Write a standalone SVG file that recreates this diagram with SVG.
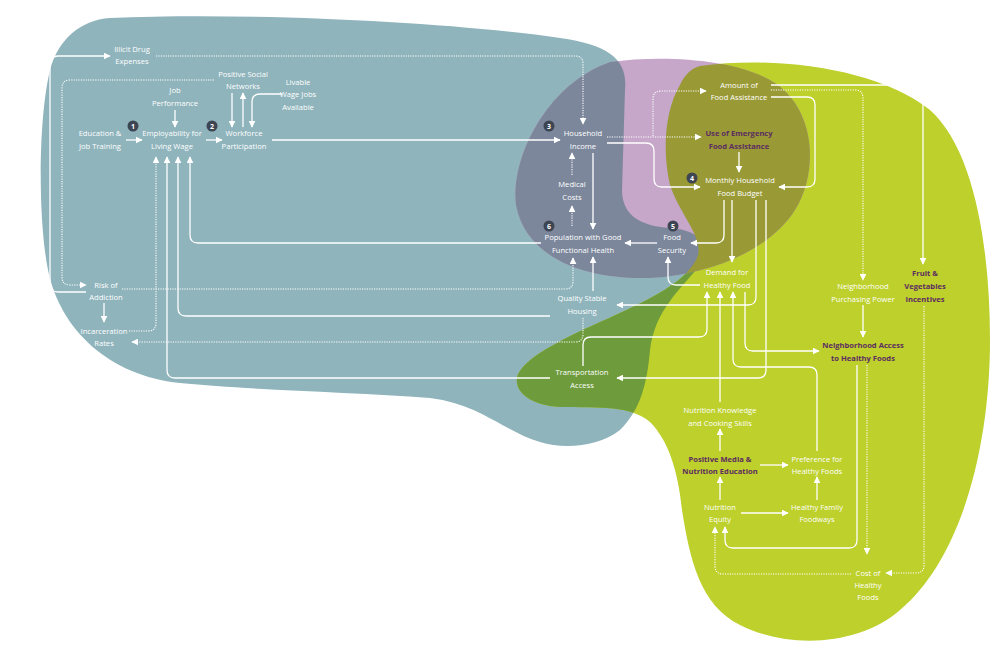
<svg xmlns="http://www.w3.org/2000/svg" width="1000" height="656" viewBox="0 0 1000 656">
<style>
text{font-family:"Open Sans","Noto Sans","Liberation Sans",sans-serif;font-size:7.6px;fill:#ffffff;text-anchor:middle}
.b{font-weight:bold;fill:#5c2c60}
.n{font-size:7px;font-weight:bold;fill:#ffffff}
.s{fill:none;stroke:#ffffff;stroke-width:1.3;marker-end:url(#ah)}
.d{fill:none;stroke:#ffffff;stroke-width:1.1;stroke-dasharray:1.2 1.2;marker-end:url(#ah)}
.bd{fill:#3d4452}
</style>
<defs>
<marker id="ah" viewBox="0 0 10 10" refX="9" refY="5" markerWidth="7" markerHeight="7" markerUnits="userSpaceOnUse" orient="auto"><path d="M0,0 L10,5 L0,10 z" fill="#ffffff"/></marker>
<path id="T" d="M110,18 C250,12 450,22 560,38 C610,45 628,60 625,90 L622,190 C622,215 640,226 670,228 C700,230 712,245 700,265 C680,290 655,310 650,350 C647,385 640,410 620,430 C600,446 565,450 540,442 C505,432 480,404 430,398 C350,392 250,390 180,383 C110,376 60,330 48,270 C38,220 38,120 50,70 C58,40 80,20 110,18 Z"/>
<path id="L" d="M700,66 C780,55 880,70 930,110 C975,150 990,250 990,340 C990,450 960,560 900,610 C860,645 790,650 740,625 C700,605 690,560 682,510 C678,470 668,440 650,422 C630,405 600,408 560,407 C530,405 515,392 517,378 C520,360 560,340 600,322 C650,300 690,280 698,255 C702,235 680,215 670,185 C662,150 665,110 680,85 C685,74 692,68 700,66 Z"/>
<path id="P" d="M610,62 C660,55 730,58 770,80 C815,105 820,170 795,210 C770,250 710,275 650,278 C580,280 525,255 516,205 C510,160 545,85 610,62 Z"/>
<clipPath id="cT"><use href="#T"/></clipPath>
<clipPath id="cL"><use href="#L"/></clipPath>
</defs>
<rect width="1000" height="656" fill="#ffffff"/>
<g id="blobs">
<use href="#T" fill="#8fb4bc"/>
<use href="#L" fill="#bdd02c"/>
<use href="#L" fill="#6e9b3b" clip-path="url(#cT)"/>
<use href="#P" fill="#c6a6c9"/>
<use href="#P" fill="#7c879c" clip-path="url(#cT)"/>
<use href="#P" fill="#999a36" clip-path="url(#cL)"/>
</g>
<g id="connectors">
<path class="s" d="M86,292 H58 Q50,292 50,284 V64 Q50,56 58,56 H110"/>
<path class="d" d="M156,56 H575 Q583,56 583,64 V124"/>
<path class="d" d="M214,80 H70 Q62,80 62,88 V277 Q62,285 70,285 H86"/>
<path class="d" d="M122,289 H565 Q573,289 573,281 V258"/>
<path class="s" d="M104,303 V322"/>
<path class="d" d="M129,331 H148 Q156,331 156,323 V157"/>
<path class="d" d="M583,318 V334 Q583,342 575,342 H132"/>
<path class="s" d="M550,378 H175 Q167,378 167,370 V157"/>
<path class="s" d="M550,316 H186 Q178,316 178,308 V157"/>
<path class="s" d="M541,243 H198 Q190,243 190,235 V157"/>
<path class="s" d="M175,110 V127"/>
<path class="s" d="M126,140 H142"/>
<path class="s" d="M206,140 H222"/>
<path class="s" d="M232,93 V127"/>
<path class="s" d="M243,127 V93"/>
<path class="s" d="M282,94 H260 Q252,94 252,102 V127"/>
<path class="s" d="M272,140 H560"/>
<path class="d" d="M607,137 H701"/>
<path class="d" d="M653,136 V99 Q653,91 661,91 H706"/>
<path class="s" d="M607,143 H646 Q654,143 654,151 V179 Q654,187 662,187 H700"/>
<path class="s" d="M771,97 H807 Q815,97 815,105 V179 Q815,187 807,187 H779"/>
<path class="s" d="M771,85 H915 Q923,85 923,93 V264"/>
<path class="d" d="M771,90 H855 Q863,90 863,98 V280"/>
<path class="s" d="M739,152 V172"/>
<path class="s" d="M724,200 V235 Q724,243 716,243 H691"/>
<path class="s" d="M732,200 V262"/>
<path class="s" d="M756,200 V297 Q756,305 748,305 H617"/>
<path class="s" d="M766,200 V370 Q766,378 758,378 H617"/>
<path class="s" d="M657,243 H625"/>
<path class="s" d="M700,285 H676 Q668,285 668,277 V257"/>
<path class="s" d="M593,153 V229"/>
<path class="d" d="M572,175 V153"/>
<path class="d" d="M572,226 V206"/>
<path class="s" d="M593,291 V257"/>
<path class="s" d="M583,366 V345 Q583,337 591,337 H699 Q707,337 707,329 V292"/>
<path class="s" d="M720,402 V292"/>
<path class="s" d="M817,451 V375 Q817,367 809,367 H741 Q733,367 733,359 V292"/>
<path class="s" d="M745,292 V343 Q745,351 753,351 H819"/>
<path class="s" d="M863,305 V337"/>
<path class="s" d="M857,365 V540 Q857,548 849,548 H733 Q725,548 725,540 V527"/>
<path class="d" d="M867,365 V554"/>
<path class="d" d="M924,306 V565 Q924,573 916,573 H886"/>
<path class="d" d="M851,574 H723 Q715,574 715,566 V527"/>
<path class="s" d="M720,451 V429"/>
<path class="s" d="M720,500 V477"/>
<path class="s" d="M760,465 H788"/>
<path class="s" d="M741,513 H788"/>
<path class="s" d="M817,500 V477"/>
</g>
<g id="n-illicit"><text x="132" y="52">Illicit Drug</text><text x="132" y="64">Expenses</text></g>
<g id="n-jobperf"><text x="175" y="93">Job</text><text x="175" y="106">Performance</text></g>
<g id="n-social"><text x="243" y="77">Positive Social</text><text x="243" y="89">Networks</text></g>
<g id="n-livable"><text x="298" y="85">Livable</text><text x="298" y="97">Wage Jobs</text><text x="298" y="110">Available</text></g>
<g id="n-edu"><text x="100" y="136">Education &amp;</text><text x="100" y="149">Job Training</text></g>
<g id="n-employ"><circle class="bd" cx="133" cy="126" r="5.5"/><text class="n" x="133" y="128.5">1</text><text x="172" y="136">Employability for</text><text x="172" y="149">Living Wage</text></g>
<g id="n-workforce"><circle class="bd" cx="212" cy="126" r="5.5"/><text class="n" x="212" y="128.5">2</text><text x="244" y="136">Workforce</text><text x="244" y="149">Participation</text></g>
<g id="n-income"><circle class="bd" cx="549" cy="126" r="5.5"/><text class="n" x="549" y="128.5">3</text><text x="583" y="136">Household</text><text x="583" y="149">Income</text></g>
<g id="n-medical"><text x="572" y="187">Medical</text><text x="572" y="200">Costs</text></g>
<g id="n-amount"><text x="739" y="88">Amount of</text><text x="739" y="100">Food Assistance</text></g>
<g id="n-emergency"><text class="b" x="739" y="136">Use of Emergency</text><text class="b" x="739" y="149">Food Assistance</text></g>
<g id="n-budget"><circle class="bd" cx="692" cy="178" r="5.5"/><text class="n" x="692" y="180.5">4</text><text x="740" y="183">Monthly Household</text><text x="740" y="196">Food Budget</text></g>
<g id="n-health"><circle class="bd" cx="549" cy="226" r="5.5"/><text class="n" x="549" y="228.5">6</text><text x="583" y="240">Population with Good</text><text x="583" y="253">Functional Health</text></g>
<g id="n-security"><circle class="bd" cx="673" cy="226" r="5.5"/><text class="n" x="673" y="228.5">5</text><text x="672" y="240">Food</text><text x="672" y="253">Security</text></g>
<g id="n-demand"><text x="727" y="275">Demand for</text><text x="727" y="288">Healthy Food</text></g>
<g id="n-housing"><text x="582" y="301">Quality Stable</text><text x="582" y="314">Housing</text></g>
<g id="n-transport"><text x="582" y="375">Transportation</text><text x="582" y="388">Access</text></g>
<g id="n-risk"><text x="106" y="288">Risk of</text><text x="106" y="300">Addiction</text></g>
<g id="n-incarc"><text x="104" y="334">Incarceration</text><text x="104" y="346">Rates</text></g>
<g id="n-purchasing"><text x="863" y="289">Neighborhood</text><text x="863" y="302">Purchasing Power</text></g>
<g id="n-fruit"><text class="b" x="925" y="276">Fruit &amp;</text><text class="b" x="925" y="289">Vegetables</text><text class="b" x="925" y="302">Incentives</text></g>
<g id="n-access"><text class="b" x="863" y="348">Neighborhood Access</text><text class="b" x="863" y="361">to Healthy Foods</text></g>
<g id="n-knowledge"><text x="720" y="413">Nutrition Knowledge</text><text x="720" y="426">and Cooking Skills</text></g>
<g id="n-media"><text class="b" x="720" y="462">Positive Media &amp;</text><text class="b" x="720" y="474">Nutrition Education</text></g>
<g id="n-preference"><text x="817" y="462">Preference for</text><text x="817" y="474">Healthy Foods</text></g>
<g id="n-equity"><text x="720" y="510">Nutrition</text><text x="720" y="522">Equity</text></g>
<g id="n-foodways"><text x="817" y="510">Healthy Family</text><text x="817" y="522">Foodways</text></g>
<g id="n-cost"><text x="868" y="576">Cost of</text><text x="868" y="588">Healthy</text><text x="868" y="600">Foods</text></g>
</svg>
